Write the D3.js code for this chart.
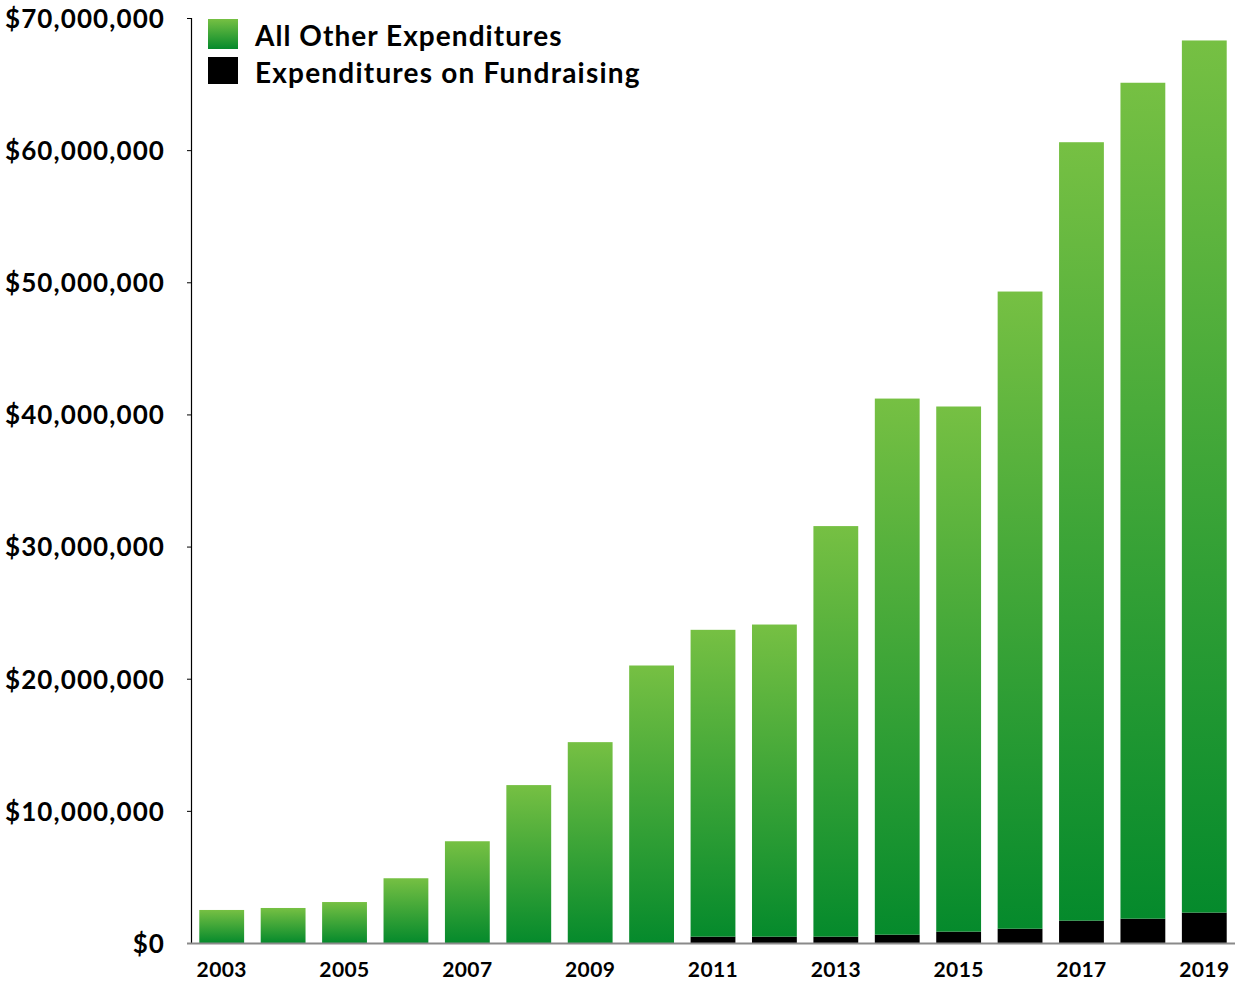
<!DOCTYPE html>
<html>
<head>
<meta charset="utf-8">
<script src="https://cdn.jsdelivr.net/npm/d3@7"></script>
<style>
  html, body { margin: 0; padding: 0; background: #fff; }
  svg text { font-family: "Lato", "Open Sans", sans-serif; font-weight: 700; fill: #000; }
</style>
</head>
<body>
<svg id="chart" width="1235" height="982"></svg>
<script>
const years = ["2003","2004","2005","2006","2007","2008","2009","2010","2011","2012","2013","2014","2015","2016","2017","2018","2019"];
const totalExpenditures = [2500000, 2650000, 3100000, 4900000, 7700000, 11950000, 15200000, 21000000, 23700000, 24100000, 31550000, 41200000, 40600000, 49300000, 60600000, 65100000, 68300000];
const fundraising = [0, 0, 0, 0, 0, 0, 0, 0, 480000, 480000, 480000, 630000, 860000, 1080000, 1690000, 1840000, 2300000];
const allOther = totalExpenditures.map((t, i) => t - fundraising[i]);
const yTicks = [0, 10000000, 20000000, 30000000, 40000000, 50000000, 60000000, 70000000];
const xTickLabels = ["2003","2005","2007","2009","2011","2013","2015","2017","2019"];
const seriesNames = ["All Other Expenditures", "Expenditures on Fundraising"];

const svg = d3.select("#chart");
const x0 = 191, x1 = 1235, yBase = 943, yTop = 18;

const x = d3.scaleBand().domain(years).range([x0, x1]).paddingInner(0.27).paddingOuter(0.135);
const y = d3.scaleLinear().domain([0, 70000000]).range([yBase, yTop]);

const defs = svg.append("defs");
const grad = defs.append("linearGradient").attr("id", "greenGrad")
  .attr("x1", 0).attr("y1", 0).attr("x2", 0).attr("y2", 1);
grad.append("stop").attr("offset", "0%").attr("stop-color", "#76c043");
grad.append("stop").attr("offset", "100%").attr("stop-color", "#058a2c");

const data = years.map((yr, i) => ({ year: yr, fundraising: fundraising[i], other: allOther[i] }));
const stack = d3.stack().keys(["fundraising", "other"])(data);

// bars
svg.append("g").selectAll("rect.fund").data(stack[0]).join("rect")
  .attr("x", d => x(d.data.year)).attr("width", x.bandwidth())
  .attr("y", d => y(d[1])).attr("height", d => y(d[0]) - y(d[1]))
  .attr("fill", "#000");
svg.append("g").selectAll("rect.other").data(stack[1]).join("rect")
  .attr("x", d => x(d.data.year)).attr("width", x.bandwidth())
  .attr("y", d => y(d[1])).attr("height", d => y(d[0]) - y(d[1]))
  .attr("fill", "url(#greenGrad)");

// y axis
const yAxis = d3.axisLeft(y).tickValues(yTicks).tickSize(4).tickPadding(22)
  .tickFormat(d => "$" + d3.format(",")(d));
const gy = svg.append("g").attr("transform", `translate(${x0},0)`).call(yAxis);
gy.select(".domain").attr("stroke", "#000").attr("stroke-width", 1.2);
gy.selectAll(".tick line").attr("stroke", "#000");
gy.selectAll(".tick text").style("font-size", "26px").style("letter-spacing", "1.1px").attr("dy", "0.36em");

// x axis
const xAxis = d3.axisBottom(x).tickValues(xTickLabels).tickSize(0).tickPadding(19);
const gx = svg.append("g").attr("transform", `translate(0,${yBase})`).call(xAxis);
gx.select(".domain").remove();
gx.selectAll(".tick text").style("font-size", "21px").style("letter-spacing", "0.4px");
svg.append("line").attr("x1", 187).attr("x2", 1235).attr("y1", yBase + 0.5).attr("y2", yBase + 0.5)
  .attr("stroke", "#8a8a8a").attr("stroke-width", 2);

// legend
const legend = svg.append("g");
const lg = [{name: seriesNames[0], fill: "url(#greenGrad)", y: 19, h: 30, ls: "1.05px"}, {name: seriesNames[1], fill: "#000", y: 57, h: 27, ls: "1.2px"}];
legend.selectAll("rect").data(lg).join("rect")
  .attr("x", 208).attr("y", d => d.y).attr("width", 30).attr("height", d => d.h).attr("fill", d => d.fill);
legend.selectAll("text").data(lg).join("text")
  .attr("x", 255).attr("y", d => d.y + d.h / 2 + 2).attr("dy", "0.36em")
  .style("font-size", "28px").style("letter-spacing", d => d.ls).text(d => d.name);
</script>
</body>
</html>
